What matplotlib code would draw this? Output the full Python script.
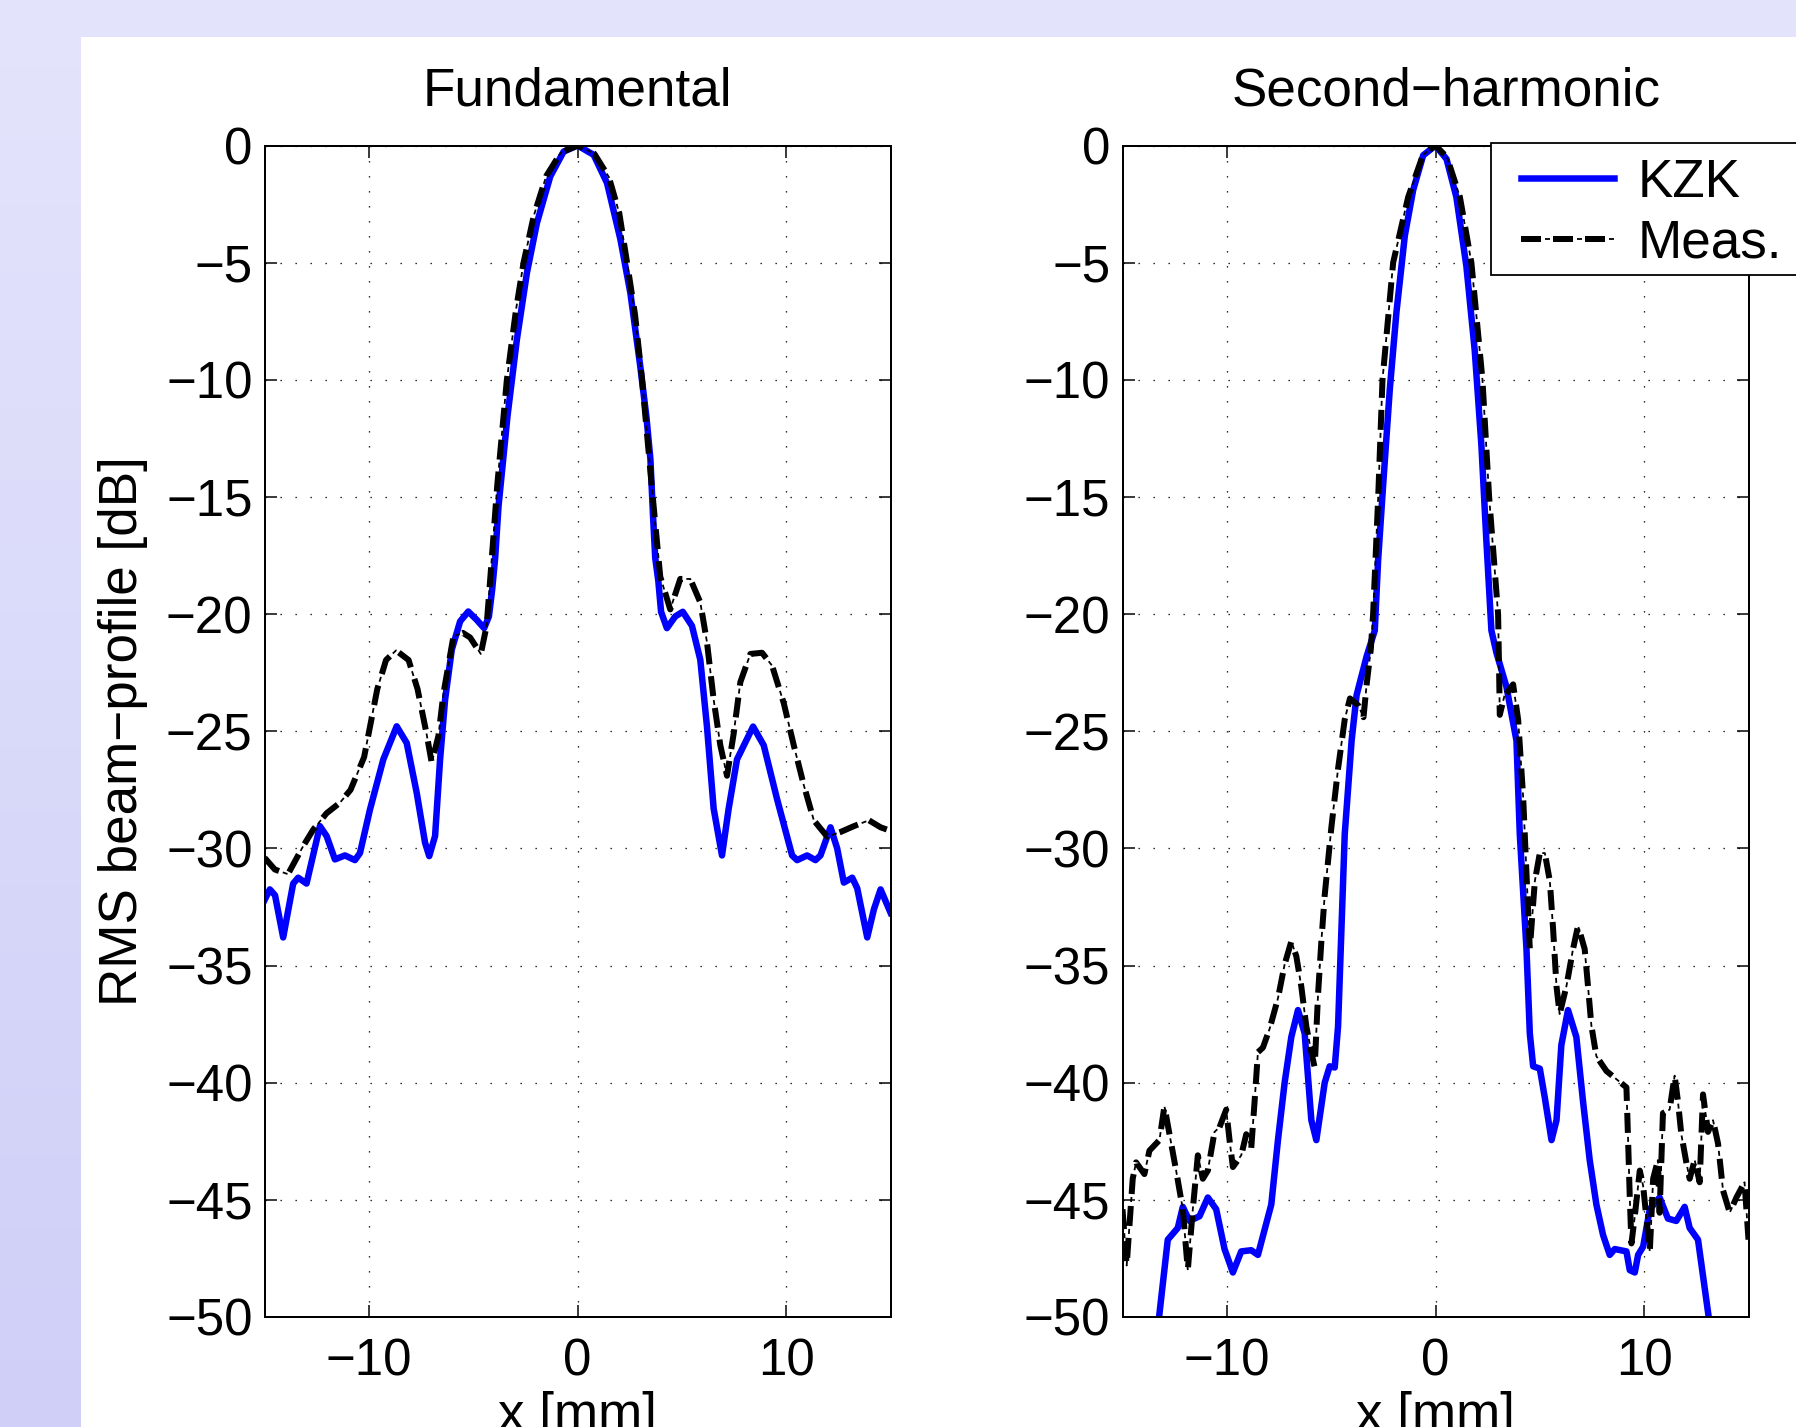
import numpy as np
import matplotlib
matplotlib.use("Agg")
import matplotlib.pyplot as plt
from matplotlib.patches import Rectangle

plt.rcParams['font.family'] = ['Liberation Sans', 'DejaVu Sans']
plt.rcParams['lines.scale_dashes'] = False

# ---- data ----
fund_kzk_x = [-15.0, -14.75, -14.5, -14.11, -13.63, -13.39, -12.99, -12.35, -12.03, -11.63,
              -11.15, -10.67, -10.43, -9.95, -9.31, -8.67, -8.19, -7.71, -7.31, -7.11,
              -6.83, -6.59, -6.35, -6.03, -5.63, -5.24, -4.84, -4.48, -4.25, -4.1,
              -3.95, -3.79, -3.36, -2.91, -2.43, -1.95, -1.31, -0.67, 0.0, 0.77,
              1.41, 2.05, 2.53, 3.0, 3.3, 3.49, 3.62, 3.72, 3.87, 4.0,
              4.28, 4.68, 5.04, 5.48, 5.88, 6.2, 6.52, 6.92, 7.24, 7.64,
              8.41, 8.92, 9.56, 10.28, 10.52, 11.0, 11.4, 11.64, 12.12, 12.44,
              12.76, 13.16, 13.4, 13.88, 14.2, 14.52, 15.0]
fund_kzk_y = [-32.2, -31.75, -32.0, -33.8, -31.5, -31.25, -31.5, -29.05, -29.47, -30.47,
              -30.3, -30.5, -30.2, -28.34, -26.2, -24.79, -25.5, -27.63, -29.76, -30.33,
              -29.47, -26.2, -23.65, -21.52, -20.31, -19.89, -20.24, -20.6, -20.1, -19.0,
              -17.6, -15.4, -11.55, -8.28, -5.44, -3.31, -1.32, -0.26, 0.0, -0.4,
              -1.6, -4.0, -6.3, -9.4, -11.6, -13.4, -15.9, -17.6, -18.6, -19.9,
              -20.6, -20.1, -19.9, -20.5, -21.95, -24.8, -28.3, -30.3, -28.3, -26.2,
              -24.8, -25.6, -27.9, -30.3, -30.5, -30.3, -30.5, -30.3, -29.1, -30.0,
              -31.46, -31.25, -31.7, -33.8, -32.6, -31.75, -32.75]

fund_meas_x = [-15.0, -14.51, -13.88, -13.15, -12.67, -12.03, -11.39, -10.88, -10.23, -9.6,
               -9.18, -8.7, -8.1, -7.67, -7.24, -6.99, -6.67, -6.43, -5.95, -5.5,
               -5.15, -4.64, -4.36, -4.17, -3.85, -3.39, -2.95, -2.59, -2.1, -1.5,
               -0.8, 0.0, 0.8, 1.5, 2.0, 2.37, 2.75, 3.09, 3.55, 3.96,
               4.44, 4.92, 5.4, 5.88, 6.2, 6.52, 6.84, 7.16, 7.48, 7.8,
               8.28, 8.84, 9.32, 9.88, 10.36, 10.84, 11.32, 11.96, 12.6, 13.24,
               13.96, 14.52, 15.0]
fund_meas_y = [-30.4, -30.9, -31.1, -29.9, -29.2, -28.5, -28.05, -27.5, -26.1, -23.2,
               -21.96, -21.55, -21.96, -23.2, -25.1, -26.35, -25.2, -23.4, -20.95, -20.8,
               -21.0, -21.7, -20.5, -18.3, -14.5, -10.0, -7.0, -5.0, -3.0, -1.3,
               -0.3, 0.0, -0.35, -1.35, -2.9, -5.0, -7.2, -10.0, -14.5, -18.4,
               -19.8, -18.5, -18.5, -19.5, -21.2, -23.65, -25.6, -26.9, -25.1, -22.9,
               -21.7, -21.65, -22.2, -23.8, -25.6, -27.3, -28.8, -29.5, -29.3, -29.05,
               -28.8, -29.1, -29.25]

sh_kzk_x = [-13.31, -12.83, -12.35, -12.11, -11.79, -11.31, -10.91, -10.51, -10.11, -9.71,
            -9.31, -8.83, -8.51, -7.87, -7.55, -7.23, -6.91, -6.59, -6.27, -5.95,
            -5.71, -5.31, -5.07, -4.83, -4.67, -4.35, -4.02, -3.78, -3.3, -2.91,
            -2.75, -2.51, -2.19, -1.87, -1.47, -1.07, -0.59, 0.0, 0.53, 1.0,
            1.48, 1.88, 2.2, 2.44, 2.68, 2.92, 3.4, 3.69, 3.88, 4.04,
            4.36, 4.52, 4.68, 5.0, 5.24, 5.56, 5.8, 6.03, 6.35, 6.75,
            7.07, 7.39, 7.71, 8.03, 8.35, 8.59, 9.15, 9.31, 9.55, 9.71,
            9.95, 10.27, 10.74, 11.14, 11.54, 11.94, 12.18, 12.58, 13.17]
sh_kzk_y = [-50.5, -46.7, -46.2, -45.3, -45.9, -45.7, -44.9, -45.4, -47.1, -48.1,
            -47.2, -47.15, -47.35, -45.2, -42.45, -40.0, -38.05, -36.9, -37.9, -41.6,
            -42.45, -40.0, -39.3, -39.35, -37.6, -29.4, -25.4, -23.45, -21.8, -20.7,
            -17.7, -14.5, -10.4, -7.1, -3.85, -1.9, -0.42, 0.0, -0.58, -2.2,
            -5.15, -8.75, -12.8, -16.9, -20.7, -21.65, -23.1, -24.5, -25.4, -29.4,
            -34.3, -37.9, -39.3, -39.4, -40.65, -42.45, -41.6, -38.4, -36.9, -38.05,
            -40.8, -43.3, -45.2, -46.5, -47.35, -47.1, -47.2, -48.0, -48.1, -47.35,
            -47.0, -45.4, -44.9, -45.8, -45.9, -45.3, -46.2, -46.7, -50.5]

sh_meas_x = [-15.0, -14.8, -14.51, -14.35, -13.95, -13.71, -13.23, -12.99, -12.83, -12.43,
             -12.11, -11.87, -11.63, -11.39, -11.15, -10.91, -10.59, -10.35, -10.03, -9.87,
             -9.71, -9.31, -9.07, -8.83, -8.67, -8.51, -8.27, -7.95, -7.55, -7.23,
             -6.91, -6.67, -6.43, -6.19, -5.95, -5.79, -5.63, -5.47, -5.31, -4.99,
             -4.67, -4.35, -4.1, -3.7, -3.45, -3.3, -3.1, -2.99, -2.75, -2.54,
             -2.03, -1.31, -0.6, 0.0, 0.55, 1.17, 1.72, 2.25, 2.57, 3.0,
             3.05, 3.08, 3.3, 3.72, 3.96, 4.2, 4.44, 4.52, 4.76, 5.0,
             5.24, 5.48, 5.64, 5.8, 5.95, 6.27, 6.59, 6.83, 7.15, 7.31,
             7.47, 7.71, 8.19, 8.67, 9.15, 9.23, 9.31, 9.39, 9.55, 9.79,
             9.95, 10.27, 10.43, 10.66, 10.74, 10.9, 11.22, 11.46, 11.62, 11.78,
             12.02, 12.18, 12.42, 12.66, 12.82, 13.06, 13.3, 13.54, 13.78, 14.1,
             14.42, 14.81, 15.0]
sh_meas_y = [-45.4, -47.8, -44.1, -43.4, -43.9, -42.9, -42.45, -41.0, -41.8, -43.75,
             -45.4, -48.0, -45.4, -43.1, -44.1, -43.75, -42.1, -41.9, -41.15, -42.45,
             -43.6, -43.1, -42.2, -42.8, -40.8, -38.7, -38.5, -37.7, -36.4, -34.95,
             -33.97, -34.6, -35.9, -37.6, -38.7, -39.35, -36.25, -33.97, -32.0, -29.1,
             -26.6, -24.5, -23.6, -23.9, -24.4, -23.0, -21.5, -20.0, -15.1, -10.0,
             -5.0, -2.2, -0.4, 0.0, -0.5, -2.2, -5.0, -10.0, -15.0, -20.0,
             -22.5, -24.3, -23.5, -23.0, -24.5, -27.8, -32.7, -34.3, -31.4, -30.2,
             -30.2, -31.4, -33.5, -35.9, -37.07, -35.9, -34.3, -33.3, -34.3, -35.9,
             -37.56, -38.87, -39.5, -39.85, -40.2, -42.45, -44.9, -46.86, -45.7, -43.75,
             -44.4, -47.2, -44.1, -43.3, -45.55, -41.3, -41.15, -39.7, -40.8, -42.2,
             -43.4, -44.1, -43.3, -44.25, -40.5, -42.1, -41.6, -42.6, -44.6, -45.55,
             -44.9, -44.25, -46.7]

titles = ["Fundamental", "Second\u2212harmonic"]
legend_labels = ["KZK", "Meas."]
xticks = [-10, 0, 10]
yticks = list(range(-50, 1, 5))

W, H = 1796, 1427
fig = plt.figure(figsize=(W / 72, H / 72), dpi=72)

# lavender gradient background with white sheet
bg = fig.add_axes([0, 0, 1, 1], zorder=-5)
top_c = np.array([0.894, 0.894, 0.988])
bot_c = np.array([0.812, 0.812, 0.973])
t = np.linspace(0, 1, 256)[:, None]
grad = (top_c * (1 - t) + bot_c * t)[:, None, :]
bg.imshow(grad, aspect='auto', extent=[0, 1, 0, 1])
bg.add_patch(Rectangle((81 / W, 0), 1, 1 - 37 / H, transform=bg.transAxes,
                       facecolor='white', edgecolor='none'))
bg.set_xlim(0, 1)
bg.set_ylim(0, 1)
bg.axis('off')

fs = 51
fs_lab = 53
ax_w = 626 / W
ax_h = (1317 - 145.5) / H
ax_b = 1 - 1317 / H
lefts = [264.6 / W, 1122.5 / W]
title_x = [0.5, 0.517]
data = [(fund_kzk_x, fund_kzk_y, fund_meas_x, fund_meas_y),
        (sh_kzk_x, sh_kzk_y, sh_meas_x, sh_meas_y)]

for i, (kx, ky, mx, my) in enumerate(data):
    ax = fig.add_axes([lefts[i], ax_b, ax_w, ax_h])
    ax.set_xlim(-15, 15)
    ax.set_ylim(-50, 0)
    ax.set_xticks(xticks)
    ax.set_yticks(yticks)
    ax.grid(True, color='k', linestyle=(0, (1.3, 13.7)), linewidth=1.3)
    ax.tick_params(direction='in', length=12, width=1.5, top=True, right=True,
                   labelsize=fs, colors='k')
    ax.tick_params(axis='x', pad=20)
    ax.tick_params(axis='y', pad=12)
    for s in ax.spines.values():
        s.set_linewidth(2)
    kzk, = ax.plot(kx, ky, color='blue', linewidth=6.5, solid_joinstyle='round')
    meas_a, = ax.plot(mx, my, color='k', linewidth=6, linestyle=(0, (20, 12)))
    meas_b, = ax.plot(mx, my, color='k', linewidth=1.8, linestyle=(8, (5, 27)))
    ax.set_title(titles[i], fontsize=fs_lab, pad=40, x=title_x[i])
    ax.set_xlabel("x [mm]", fontsize=fs_lab, va='top')
    ax.xaxis.set_label_coords(0.5, -0.063)
    if i == 0:
        ax.set_ylabel("RMS beam\u2212profile [dB]", fontsize=fs_lab, va='center')
        ax.yaxis.set_label_coords(-0.2265, 0.5)
    else:
        # legend frame drawn as a box that runs off the right edge
        fig.patches.append(Rectangle((1491 / W, 1 - 275 / H), 400 / W, 132 / H,
                                     transform=fig.transFigure, facecolor='white',
                                     edgecolor='k', linewidth=1.8, zorder=4))
        fig.legend([kzk, (meas_a, meas_b)], legend_labels, loc='upper left',
                   bbox_to_anchor=(1521 / W, 1 - 158 / H), borderaxespad=0,
                   fontsize=fs_lab, frameon=False, borderpad=0, labelspacing=0.2,
                   handlelength=1.75, handletextpad=0.45)

fig.savefig("out.png", dpi=72)
